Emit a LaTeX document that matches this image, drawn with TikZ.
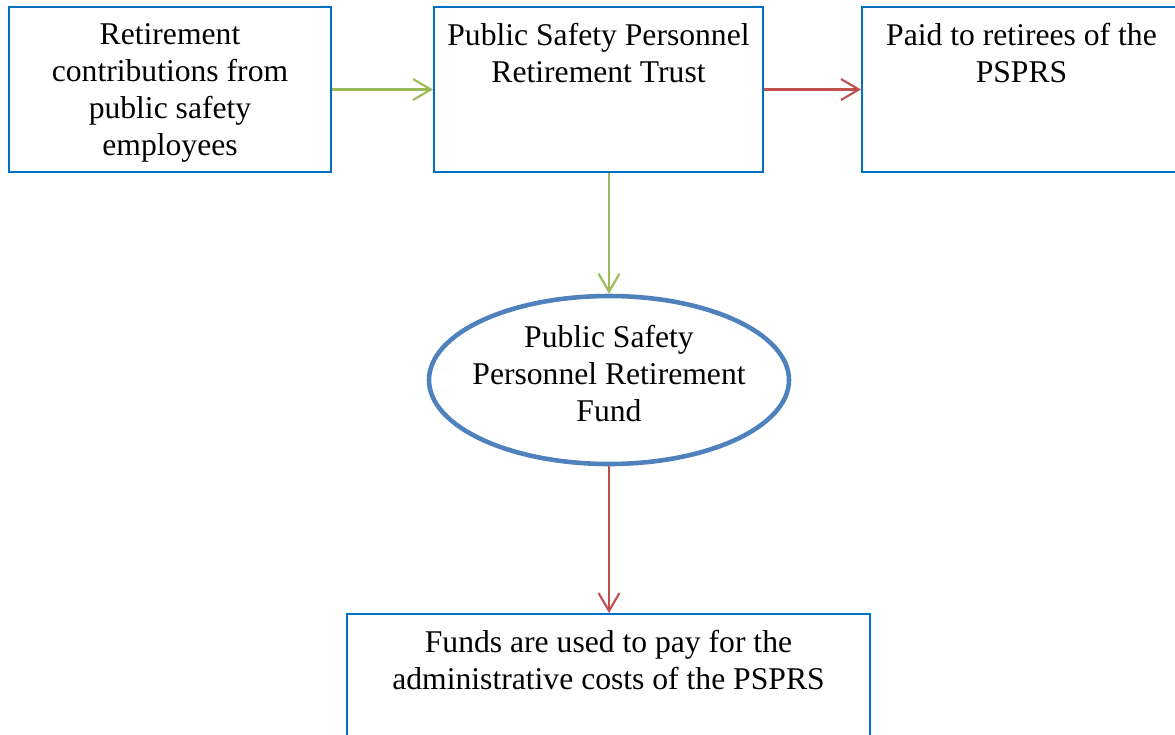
\documentclass[tikz,border=0pt]{standalone}
\usepackage{fontspec}
\setmainfont{Liberation Serif}
\usepackage{xcolor}
\usepackage{tikz}
\usetikzlibrary{shapes.geometric, arrows.meta, calc}

\definecolor{boxblue}{RGB}{0,112,192}
\definecolor{ovalblue}{RGB}{79,129,189}
\definecolor{flowgreen}{RGB}{155,187,89}
\definecolor{flowred}{RGB}{192,80,77}

\begin{document}
\begin{tikzpicture}[
    block/.style={rectangle, draw=boxblue, line width=1.1pt, minimum height=3.3cm, inner sep=0pt, align=center, text depth=0pt, font=\fontsize{18}{21}\selectfont},
    fund/.style={ellipse, draw=ovalblue, line width=2.6pt, minimum width=7.2cm, minimum height=3.36cm, inner sep=0pt, font=\fontsize{18}{21}\selectfont},
    arrow/.style={-{Straight Barb[length=0.36cm, width=0.42cm]}, line width=1.2pt}
]
    \useasboundingbox (0,0) rectangle (23.5,-14.68);
    \clip (0,0) rectangle (23.5,-14.68);

    \node[block, minimum width=6.44cm] (contrib) at (3.4,-1.79) {Retirement\\contributions from\\public safety\\employees};
    \node[block, minimum width=6.58cm] (trust) at (11.97,-1.79) {Public Safety Personnel\\Retirement Trust\\~\\~};
    \node[block, minimum width=6.38cm] (paid) at (20.43,-1.79) {Paid to retirees of the\\PSPRS\\~\\~};
    \node[fund] (psprf) at (12.18,-7.6) {\makebox[0pt]{\raisebox{-0.1cm}[0pt][0pt]{\begin{tabular}{@{}c@{}}Public Safety\\Personnel Retirement\\Fund\end{tabular}}}};
    \node[block, minimum width=10.46cm] (admin) at (12.17,-13.93) {Funds are used to pay for the\\administrative costs of the PSPRS\\~\\~};

    \draw[arrow, flowgreen] (contrib) -- (trust);
    \draw[arrow, flowred] (trust) -- (paid);
    \draw[arrow, flowgreen] (trust.south -| psprf.north) -- (psprf.north);
    \draw[arrow, flowred] (psprf.south) -- (psprf.south |- admin.north);
\end{tikzpicture}
\end{document}
